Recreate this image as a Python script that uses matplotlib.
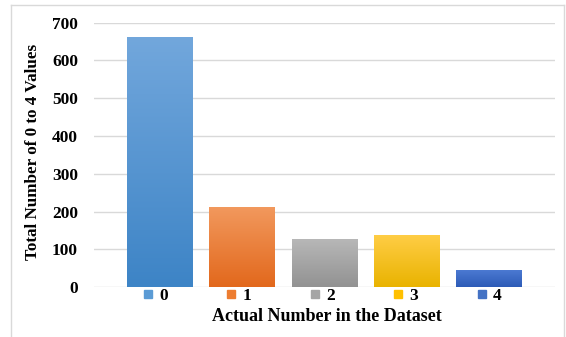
import matplotlib
matplotlib.use("Agg")
import matplotlib.pyplot as plt
import numpy as np
from matplotlib.lines import Line2D
from matplotlib.colors import LinearSegmentedColormap

categories = ["0", "1", "2", "3", "4"]
values = [661, 213, 127, 137, 45]
top_colors = ["#72a7dc", "#f2995e", "#b8b8b8", "#ffcd45", "#4d7bd3"]
bottom_colors = ["#3d84c6", "#e2681c", "#929292", "#e9b300", "#2d5bb7"]
base_colors = ["#5b9bd5", "#ed7d31", "#a5a5a5", "#ffc000", "#4472c4"]
yticks = [0, 100, 200, 300, 400, 500, 600, 700]

plt.rcParams['font.family'] = ['Liberation Serif', 'DejaVu Serif']
plt.rcParams['font.weight'] = 'bold'

W, H = 566, 337
fig = plt.figure(figsize=(W / 100, H / 100), dpi=100)
# outer chart frame (left, top, right)
fr = dict(color="#d9d9d9", lw=1, transform=fig.transFigure)
fig.add_artist(Line2D([10.5 / W, 10.5 / W], [0, 1 - 5 / H], **fr))
fig.add_artist(Line2D([10.5 / W, 564 / W], [1 - 5 / H, 1 - 5 / H], **fr))
fig.add_artist(Line2D([564 / W, 564 / W], [0, 1 - 5 / H], **fr))

ax = fig.add_axes([94 / W, 49.7 / H, (555 - 94) / W, (314.4 - 49.7) / H])

x = np.arange(len(categories))
bars = ax.bar(x, values, width=0.8, color=base_colors, zorder=2)
for b, tc, bc in zip(bars, top_colors, bottom_colors):
    cmap = LinearSegmentedColormap.from_list("g", [bc, tc])
    grad = np.linspace(0, 1, 256).reshape(-1, 1)
    x0, w, h = b.get_x(), b.get_width(), b.get_height()
    im = ax.imshow(grad, cmap=cmap, extent=[x0, x0 + w, 0, h], origin="lower",
                   aspect="auto", zorder=3)
    im.set_clip_path(b)

ax.set_xlim(-0.8, 4.8)
ax.set_ylim(0, 700)
ax.set_yticks(yticks)
ax.set_xticks([])
ax.yaxis.grid(True, color="#d9d9d9", lw=1, zorder=0)
ax.set_axisbelow(True)
for s in ax.spines.values():
    s.set_visible(False)
ax.tick_params(axis="y", length=0, pad=11.5, labelsize=12.5)
for t in ax.get_yticklabels():
    t.set_fontweight("bold")

fig.text(33 / W, 1 - 152 / H, "Total Number of 0 to 4 Values", rotation=90,
         ha="center", va="center", fontsize=12.3, fontweight="bold")

handles = [Line2D([], [], marker="s", linestyle="none", markersize=6,
                  markerfacecolor=c, markeredgecolor=c) for c in base_colors]
leg = ax.legend(handles, categories, ncol=5, loc="upper center",
                bbox_to_anchor=(0.495, -0.003), frameon=False,
                prop={"family": "Liberation Serif", "weight": "bold", "size": 12.5},
                handlelength=0.6, handletextpad=0.35, columnspacing=3.35,
                borderaxespad=0, borderpad=0)

fig.text(326.7 / W, 1 - 316.7 / H, "Actual Number in the Dataset", ha="center",
         va="center", fontsize=13, fontweight="bold")

fig.savefig("out.png", dpi=100)
